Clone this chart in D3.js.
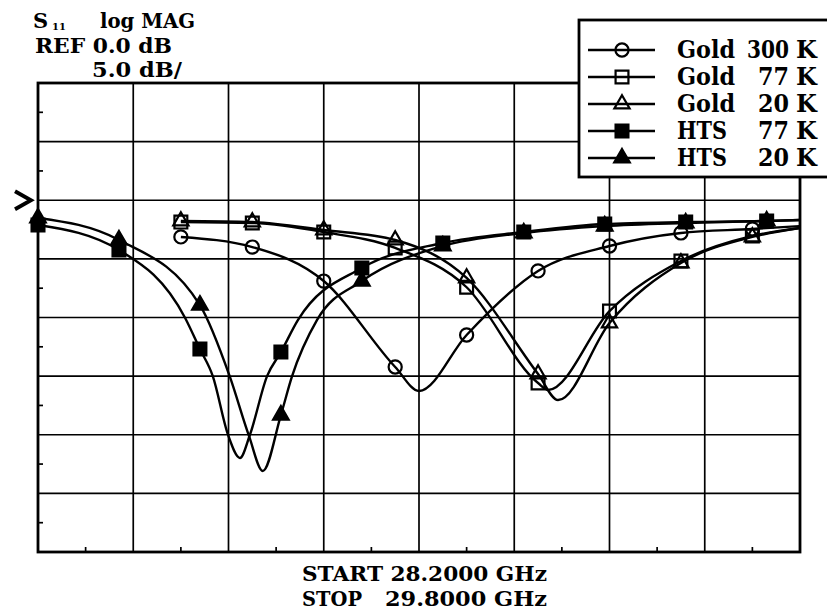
<!DOCTYPE html>
<html>
<head>
<meta charset="utf-8">
<script src="https://cdn.jsdelivr.net/npm/d3@7"></script>
<style>
  body { margin: 0; background: #fff; }
  svg { display: block; }
  text { font-family: "DejaVu Serif", "Liberation Serif", serif; font-weight: bold; fill: #000; }
</style>
</head>
<body>
<svg id="chart" width="827" height="614"></svg>
<script>
// Network-analyzer style S11 plot: 28.2 - 29.8 GHz, 5 dB/div, REF 0 dB
const freqStartGHz = 28.2;
const freqStopGHz = 29.8;
const xDivisions = 8;
const dbTop = 10;
const dbBottom = -30;
const dbPerDiv = 5;
const refDb = 0;

const headerLines = ["log MAG", "REF 0.0 dB", "5.0 dB/"];
const sweepLines = ["START 28.2000 GHz", "STOP", "29.8000 GHz"];

// frequencies where symbols sit on each family of traces
const goldMarkerGHz = [28.5, 28.65, 28.8, 28.95, 29.1, 29.25, 29.4, 29.55, 29.7];
const htsMarkerGHz = [28.2, 28.37, 28.54, 28.71, 28.88, 29.05, 29.22, 29.39, 29.56, 29.73];

// traces as [GHz, dB]
const gold300K = [[28.5,-3.13],[28.65,-3.99],[28.8,-6.89],[28.95,-14.22],[29.0,-16.27],[29.1,-11.49],
  [29.25,-6.03],[29.4,-3.9],[29.55,-2.79],[29.7,-2.45],[29.8,-2.2]];
const gold77K = [[28.5,-1.86],[28.65,-1.94],[28.8,-2.71],[28.95,-4.07],[29.1,-7.42],[29.25,-15.59],
  [29.271,-16.18],[29.4,-9.45],[29.55,-5.18],[29.7,-3.05],[29.8,-2.37]];
const gold20K = [[28.5,-1.77],[28.65,-1.86],[28.8,-2.54],[28.95,-3.39],[29.1,-6.63],[29.25,-14.82],
  [29.292,-17.04],[29.4,-10.47],[29.55,-5.35],[29.7,-3.13],[29.8,-2.37]];
const hts77K = [[28.2,-2.11],[28.37,-4.24],[28.509,-10.04],[28.54,-12.69],[28.567,-15.0],[28.599,-20.0],
  [28.624,-21.98],[28.645,-20.0],[28.681,-15.0],[28.71,-12.95],[28.746,-10.2],[28.88,-5.78],
  [29.05,-3.65],[29.22,-2.71],[29.39,-2.03],[29.56,-1.86],[29.73,-1.77],[29.8,-1.69]];
const hts20K = [[28.2,-1.51],[28.37,-3.39],[28.54,-8.94],[28.603,-15.07],[28.643,-20.1],[28.672,-23.09],
  [28.71,-18.32],[28.733,-15.07],[28.786,-10.21],[28.88,-6.89],[29.05,-3.9],[29.22,-2.79],
  [29.39,-2.2],[29.56,-1.94],[29.73,-1.77],[29.8,-1.69]];

const seriesNames = ["Gold", "Gold", "Gold", "HTS", "HTS"];
const seriesTemps = ["300", "77", "20", "77", "20"];

const series = [
  { name: seriesNames[0], temp: seriesTemps[0], trace: gold300K, marks: goldMarkerGHz, symbol: d3.symbolCircle, size: 135, filled: false },
  { name: seriesNames[1], temp: seriesTemps[1], trace: gold77K, marks: goldMarkerGHz, symbol: d3.symbolSquare, size: 165, filled: false },
  { name: seriesNames[2], temp: seriesTemps[2], trace: gold20K, marks: goldMarkerGHz, symbol: d3.symbolTriangle, size: 100, filled: false },
  { name: seriesNames[3], temp: seriesTemps[3], trace: hts77K, marks: htsMarkerGHz, symbol: d3.symbolSquare, size: 165, filled: true },
  { name: seriesNames[4], temp: seriesTemps[4], trace: hts20K, marks: htsMarkerGHz, symbol: d3.symbolTriangle, size: 105, filled: true }
];

const plot = { left: 38, right: 800, top: 83, bottom: 552 };

const x = d3.scaleLinear().domain([freqStartGHz, freqStopGHz]).range([plot.left, plot.right]);
const y = d3.scaleLinear().domain([dbBottom, dbTop]).range([plot.bottom, plot.top]);

const svg = d3.select("#chart");

// graticule
const freqStep = (freqStopGHz - freqStartGHz) / xDivisions;
const freqGrid = d3.range(1, xDivisions).map(i => freqStartGHz + i * freqStep);
const dbGrid = d3.range(dbBottom + dbPerDiv, dbTop, dbPerDiv);
const grid = svg.append("g").attr("stroke", "#000").attr("stroke-width", 1.7);
grid.selectAll("line.v").data(freqGrid).join("line").attr("class", "v")
  .attr("x1", d => x(d)).attr("x2", d => x(d)).attr("y1", plot.top).attr("y2", plot.bottom);
grid.selectAll("line.h").data(dbGrid).join("line").attr("class", "h")
  .attr("x1", plot.left).attr("x2", plot.right).attr("y1", d => y(d)).attr("y2", d => y(d));

// half-division ticks on the left and bottom edges
const dbHalf = d3.range(dbBottom + dbPerDiv / 2, dbTop, dbPerDiv);
const freqHalf = d3.range(0, xDivisions).map(i => freqStartGHz + (i + 0.5) * freqStep);
grid.selectAll("line.th").data(dbHalf).join("line").attr("class", "th")
  .attr("x1", plot.left).attr("x2", plot.left + 5).attr("y1", d => y(d)).attr("y2", d => y(d));
grid.selectAll("line.tv").data(freqHalf).join("line").attr("class", "tv")
  .attr("x1", d => x(d)).attr("x2", d => x(d)).attr("y1", plot.bottom).attr("y2", plot.bottom - 5);

svg.append("rect")
  .attr("x", plot.left).attr("y", plot.top)
  .attr("width", plot.right - plot.left).attr("height", plot.bottom - plot.top)
  .attr("fill", "none").attr("stroke", "#000").attr("stroke-width", 2.8);

// reference level pointer
const ry = y(refDb);
svg.append("path")
  .attr("d", `M15,${ry - 9} L31,${ry} L15,${ry + 9}`)
  .attr("fill", "none").attr("stroke", "#000").attr("stroke-width", 3.8)
  .attr("stroke-linejoin", "miter");

// traces
svg.append("clipPath").attr("id", "plotclip").append("rect")
  .attr("x", plot.left).attr("y", plot.top)
  .attr("width", plot.right - plot.left).attr("height", plot.bottom - plot.top);

const line = d3.line().x(d => x(d[0])).y(d => y(d[1])).curve(d3.curveMonotoneX);
const traces = svg.append("g").attr("clip-path", "url(#plotclip)");
traces.selectAll("path").data(series).join("path")
  .attr("d", s => line(s.trace))
  .attr("fill", "none").attr("stroke", "#000").attr("stroke-width", 2.4);

// symbols at marker frequencies
const onMark = (s, d) => s.marks.some(m => Math.abs(m - d[0]) < 1e-6);
series.forEach(s => {
  const sym = d3.symbol().type(s.symbol).size(s.size);
  svg.append("g").selectAll("path").data(s.trace.filter(d => onMark(s, d))).join("path")
    .attr("transform", d => `translate(${x(d[0])},${y(d[1])})`)
    .attr("d", sym)
    .attr("fill", s.filled ? "#000" : "none")
    .attr("stroke", "#000").attr("stroke-width", 2.2);
});

// header text
const hdr = svg.append("g");
hdr.append("text").attr("x", 33).attr("y", 28).attr("font-size", 21).text("S");
hdr.append("text").attr("x", 52).attr("y", 30).attr("font-size", 10).text("11");
hdr.append("text").attr("x", 100).attr("y", 28).attr("font-size", 21)
  .attr("textLength", 95).attr("lengthAdjust", "spacingAndGlyphs").text(headerLines[0]);
hdr.append("text").attr("x", 35).attr("y", 53).attr("font-size", 21)
  .attr("textLength", 137).attr("lengthAdjust", "spacingAndGlyphs").text(headerLines[1]);
hdr.append("text").attr("x", 92).attr("y", 77).attr("font-size", 21)
  .attr("textLength", 90).attr("lengthAdjust", "spacingAndGlyphs").text(headerLines[2]);

// sweep limits
const foot = svg.append("g").attr("font-size", 20);
foot.append("text").attr("x", 302).attr("y", 581)
  .attr("textLength", 245).attr("lengthAdjust", "spacingAndGlyphs").text(sweepLines[0]);
foot.append("text").attr("x", 302).attr("y", 606)
  .attr("textLength", 60).attr("lengthAdjust", "spacingAndGlyphs").text(sweepLines[1]);
foot.append("text").attr("x", 547).attr("y", 606).attr("text-anchor", "end")
  .attr("textLength", 162).attr("lengthAdjust", "spacingAndGlyphs").text(sweepLines[2]);

// legend
const lg = svg.append("g");
lg.append("rect").attr("x", 579).attr("y", 20).attr("width", 260).attr("height", 157)
  .attr("fill", "#fff").attr("stroke", "#000").attr("stroke-width", 2.8);
series.forEach((s, i) => {
  const cy = 50 + i * 27;
  lg.append("line").attr("x1", 588).attr("x2", 655).attr("y1", cy).attr("y2", cy)
    .attr("stroke", "#000").attr("stroke-width", 2.4);
  lg.append("path").attr("transform", `translate(622,${cy})`)
    .attr("d", d3.symbol().type(s.symbol).size(s.size)())
    .attr("fill", s.filled ? "#000" : "none").attr("stroke", "#000").attr("stroke-width", 2.2);
  lg.append("text").attr("x", 677).attr("y", cy + 8).attr("font-size", 24)
    .attr("textLength", s.name === "Gold" ? 58 : 50).attr("lengthAdjust", "spacingAndGlyphs").text(s.name);
  lg.append("text").attr("x", 789).attr("y", cy + 8).attr("font-size", 24).attr("text-anchor", "end")
    .attr("textLength", s.temp.length === 3 ? 42 : 31).attr("lengthAdjust", "spacingAndGlyphs")
    .text(s.temp);
  lg.append("text").attr("x", 796).attr("y", cy + 8).attr("font-size", 24).text("K");
});
</script>
</body>
</html>
